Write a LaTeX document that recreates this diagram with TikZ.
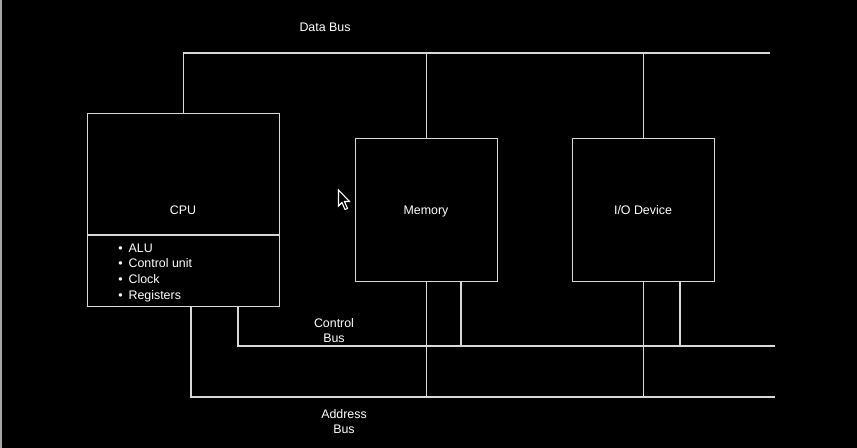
\documentclass[tikz,border=0pt]{standalone}
\usepackage{fontspec}
\setmainfont{Liberation Sans}
\definecolor{linegray}{HTML}{D8D8D8}
\begin{document}
\begin{tikzpicture}[x=0.75pt,y=-0.75pt,
  wire/.style={draw=linegray, line width=1pt},
  box/.style={draw=linegray, line width=1pt, rectangle, inner sep=0pt, anchor=north west},
  lbl/.style={text=white, font=\fontsize{9.3}{11.5}\selectfont, inner sep=0pt, align=center},
  one/.style={text height=6.7pt, text depth=0pt},
  itm/.style={text=white, font=\fontsize{9.3}{11.5}\selectfont, inner sep=0pt, anchor=west, text height=6.7pt, text depth=0pt}]
\fill[black] (0,0) rectangle (857,448);
\useasboundingbox (0,0) rectangle (857,448);
\draw[draw=gray!70, line width=1pt] (1,0) -- (1,448);

% boxes
\node[box, minimum width=144pt, minimum height=144.75pt] (cpu) at (87,113) {};
\node[box, minimum width=106.5pt, minimum height=107.25pt] (mem) at (355,138) {};
\node[box, minimum width=106.5pt, minimum height=107.25pt] (io) at (572,138) {};
\draw[wire] (cpu.west |- 0,235) -- (cpu.east |- 0,235);

% labels
\node[lbl, one] (cpul) at (183,210) {CPU};
\node[lbl, one] (meml) at (426,210) {Memory};
\node[lbl, one] (iol) at (643,210) {I/O Device};
\node[lbl, one] (dbl) at (325,27) {Data Bus};
\node[lbl] (cbl) at (334,330.5) {Control\\Bus};
\node[lbl] (abl) at (344,421.5) {Address\\Bus};

\node[itm] (b1) at (118,248) {\textbullet\hspace{4.5pt}ALU};
\node[itm] (b2) at (118,263.5) {\textbullet\hspace{4.5pt}Control unit};
\node[itm] (b3) at (118,279) {\textbullet\hspace{4.5pt}Clock};
\node[itm] (b4) at (118,295) {\textbullet\hspace{4.5pt}Registers};

% bus end points
\coordinate (dbR) at (770,53);
\coordinate (cbR) at (775,346);
\coordinate (abR) at (775,397);
\coordinate (cpuC) at (238,306);
\coordinate (cpuA) at (191,306);
\coordinate (memC) at (461,281);
\coordinate (ioC) at (680,281);

% data bus
\draw[wire] (cpu.north) -- (cpu.north |- dbR) -- (dbR);
\draw[wire] (mem.north) -- (mem.north |- dbR);
\draw[wire] (io.north) -- (io.north |- dbR);

% control bus
\draw[wire] (cpuC) -- (cpuC |- cbR) -- (cbR);
\draw[wire] (memC) -- (memC |- cbR);
\draw[wire] (ioC) -- (ioC |- cbR);

% address bus
\draw[wire] (cpuA) -- (cpuA |- abR) -- (abR);
\draw[wire] (mem.south) -- (mem.south |- abR);
\draw[wire] (io.south) -- (io.south |- abR);

% mouse cursor
\draw[white, fill=black, line width=0.8pt, line join=miter]
  (338.5,190) -- (338.5,206) -- (342,202.5) -- (345,209.5) -- (347.5,208.5) -- (344.5,201.5) -- (349.5,201.5) -- cycle;
\end{tikzpicture}
\end{document}
